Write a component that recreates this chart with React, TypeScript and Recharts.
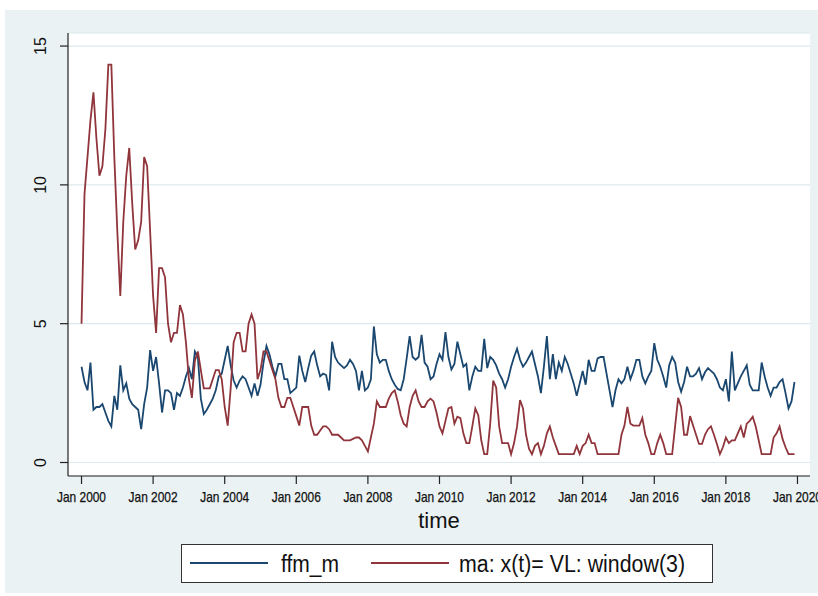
import React from 'react';
import { LineChart, Line, XAxis, YAxis, CartesianGrid } from 'recharts';

// Monthly series, Jan 2000 .. Dec 2019 (240 months)
const ffmM = [
  3.45, 2.9, 2.6, 3.6, 1.9, 2.0, 2.0, 2.1, 1.8, 1.5,
  1.3, 2.4, 1.9, 3.5, 2.6, 2.85, 2.3, 2.1, 2.0, 1.9,
  1.2, 2.1, 2.7, 4.05, 3.3, 3.8, 2.85, 1.8, 2.6, 2.6,
  2.5, 1.9, 2.5, 2.4, 2.7, 3.1, 3.4, 3.0, 4.0, 3.8,
  2.3, 1.75, 1.9, 2.1, 2.3, 2.6, 3.1, 3.2, 3.7, 4.2,
  3.5, 2.95, 2.7, 2.95, 3.1, 3.0, 2.7, 2.4, 2.85, 2.4,
  2.8, 3.6, 4.2, 3.9, 3.45, 3.1, 3.55, 3.55, 3.0, 3.0,
  2.5, 2.6, 2.7, 3.85, 3.3, 2.9, 3.4, 3.85, 4.0, 3.5,
  3.1, 3.2, 3.15, 2.6, 4.35, 3.8, 3.6, 3.5, 3.4, 3.5,
  3.7, 3.55, 3.3, 2.6, 3.3, 2.6, 2.7, 3.0, 4.9, 3.9,
  3.6, 3.7, 3.7, 3.3, 3.0, 2.8, 2.65, 2.6, 3.0, 3.75,
  4.55, 3.8, 3.7, 3.8, 4.6, 3.6, 3.45, 3.0, 3.1, 3.55,
  3.9, 3.7, 4.7, 3.8, 3.35, 3.55, 4.35, 3.9, 3.45, 3.55,
  2.6, 3.1, 3.45, 3.3, 3.3, 4.45, 3.4, 3.8, 3.7, 3.5,
  3.2, 3.0, 2.7, 3.0, 3.45, 3.8, 4.1, 3.7, 3.45, 3.6,
  3.8, 4.0, 3.55, 3.1, 2.5, 3.45, 4.55, 3.0, 3.9, 3.0,
  3.6, 3.3, 3.8, 3.55, 3.2, 2.85, 2.4, 2.85, 3.3, 2.8,
  3.7, 3.3, 3.3, 3.75, 3.8, 3.8, 3.2, 2.6, 2.0, 2.6,
  3.0, 2.85, 3.0, 3.45, 3.0, 3.3, 3.7, 3.7, 3.1, 2.85,
  3.1, 3.3, 4.3, 3.7, 3.45, 3.1, 2.7, 3.5, 3.8, 3.6,
  2.9, 2.55, 2.9, 3.45, 3.1, 3.1, 3.2, 3.4, 3.0, 3.25,
  3.4, 3.3, 3.2, 3.0, 2.7, 2.6, 3.0, 2.2, 4.0, 2.6,
  2.85, 3.1, 3.3, 3.5, 2.8, 2.6, 2.6, 2.6, 3.6, 3.1,
  2.7, 2.4, 2.7, 2.7, 2.9, 3.0, 2.5, 1.95, 2.2, 2.9,
];

const maWindow3 = [
  5.0, 9.67, 11.0, 12.33, 13.33, 11.67, 10.33, 10.67, 12.0, 14.33,
  14.33, 11.0, 8.33, 6.0, 8.67, 10.33, 11.33, 9.33, 7.67, 8.0,
  8.67, 11.0, 10.67, 8.33, 6.0, 4.67, 7.0, 7.0, 6.67, 5.0,
  4.33, 4.67, 4.67, 5.67, 5.33, 4.33, 3.0, 2.33, 3.67, 4.0,
  3.33, 2.67, 2.67, 2.67, 3.0, 3.33, 3.33, 3.0, 2.0, 1.33,
  2.67, 4.33, 4.67, 4.67, 4.0, 4.0, 5.0, 5.33, 5.0, 3.0,
  3.33, 4.0, 4.0, 3.67, 3.33, 3.0, 2.33, 2.0, 2.0, 2.33,
  2.33, 2.0, 1.67, 1.33, 2.0, 2.0, 2.0, 1.33, 1.0, 1.0,
  1.15, 1.3, 1.3, 1.2, 1.0, 1.0, 1.0, 0.9, 0.8, 0.8,
  0.8, 0.85, 0.9, 0.9, 0.8, 0.6, 0.4, 0.9, 1.4, 2.2,
  2.0, 2.0, 2.0, 2.3, 2.5, 2.6, 2.2, 1.7, 1.4, 1.3,
  2.0, 2.4, 2.6, 2.2, 2.0, 2.0, 2.2, 2.3, 2.2, 1.8,
  1.3, 1.05, 1.5, 1.95, 2.0, 1.4, 1.65, 1.6, 1.05, 0.7,
  0.7, 1.3, 1.95, 1.7, 0.8, 0.3, 0.3, 1.4, 2.95, 2.7,
  1.3, 0.7, 0.7, 0.7, 0.3, 0.7, 1.3, 2.25, 1.95, 1.0,
  0.5, 0.3, 0.6, 0.7, 0.3, 0.6, 1.05, 1.3, 0.9, 0.6,
  0.3, 0.3, 0.3, 0.3, 0.3, 0.3, 0.6, 0.3, 0.6, 0.7,
  1.0, 0.7, 0.7, 0.3, 0.3, 0.3, 0.3, 0.3, 0.3, 0.3,
  0.3, 1.0, 1.33, 2.0, 1.4, 1.33, 1.33, 1.33, 1.6, 1.0,
  0.7, 0.3, 0.3, 0.7, 1.0, 0.7, 0.3, 0.3, 0.3, 1.33,
  2.33, 2.0, 1.0, 1.0, 1.67, 1.33, 1.0, 0.67, 0.67, 1.0,
  1.2, 1.3, 1.0, 0.67, 0.3, 0.55, 0.9, 0.7, 0.8, 0.8,
  1.05, 1.3, 0.9, 1.4, 1.5, 1.65, 1.3, 0.8, 0.3, 0.3,
  0.3, 0.3, 0.9, 1.05, 1.3, 0.85, 0.55, 0.3, 0.3, 0.3,
];

const xTickLabels = [
  'Jan 2000', 'Jan 2002', 'Jan 2004', 'Jan 2006', 'Jan 2008', 'Jan 2010',
  'Jan 2012', 'Jan 2014', 'Jan 2016', 'Jan 2018', 'Jan 2020',
];
const yTicks = [0, 5, 10, 15];

const seriesNames = ['ffm_m', 'ma: x(t)= VL: window(3)'];

const data = ffmM.map((v, i) => ({ t: i, ffm: v, ma: maWindow3[i] }));
const xTicks = xTickLabels.map((_, i) => i * 24);

const BG = '#EAF2F3';
const GRID = '#DCEAEE';
const BLUE = '#1A476F';
const RED = '#90353B';
const AXIS = '#222';
const INK = '#111';
const FONT = "'Liberation Sans', Arial, sans-serif";

const XTick = (props: any) => {
  const { x, y, payload } = props;
  const label = xTickLabels[Math.round(payload.value / 24)];
  return (
    <text
      x={x}
      y={y + 16}
      textAnchor="middle"
      fontFamily={FONT}
      fontSize={14.5}
      textLength={49}
      lengthAdjust="spacingAndGlyphs"
      stroke={INK}
      strokeWidth={0.25}
      fill={INK}
    >
      {label}
    </text>
  );
};

const YTick = (props: any) => {
  const { x, y, payload } = props;
  const bx = x - 12;
  return (
    <text
      x={bx}
      y={y}
      transform={`rotate(-90 ${bx} ${y})`}
      textAnchor="middle"
      fontFamily={FONT}
      fontSize={16}
      fill={INK}
    >
      {payload.value}
    </text>
  );
};

const TimeLabel = (props: any) => {
  const vb = props.viewBox || { x: 63, y: 466, width: 742, height: 60 };
  return (
    <text x={vb.x + vb.width / 2} y={vb.y + 52} textAnchor="middle" fontFamily={FONT} fontSize={22} fill={INK}>
      time
    </text>
  );
};

const LegendBox = () => (
  <div
    style={{
      position: 'absolute',
      left: 176,
      top: 534,
      width: 530,
      height: 37,
      background: '#fff',
      border: '1px solid #333',
    }}
  >
    <svg width={530} height={37} style={{ position: 'absolute', left: 0, top: 0 }}>
      <line x1={8} x2={86} y1={18} y2={18} stroke={BLUE} strokeWidth={2} />
      <text x={99} y={27} fontFamily={FONT} fontSize={23} textLength={58} lengthAdjust="spacingAndGlyphs" fill={INK}>
        {seriesNames[0]}
      </text>
      <line x1={189} x2={267} y1={18} y2={18} stroke={RED} strokeWidth={2} />
      <text x={277} y={27} fontFamily={FONT} fontSize={23} textLength={226} lengthAdjust="spacingAndGlyphs" fill={INK}>
        {seriesNames[1]}
      </text>
    </svg>
  </div>
);

export default function App() {
  return (
    <div style={{ position: 'absolute', left: 5, top: 10, width: 813, height: 583, background: BG }}>
      <LineChart
        width={813}
        height={583}
        data={data}
        margin={{ top: 23, right: 8, left: 0, bottom: 57 }}
      >
        <CartesianGrid vertical={false} stroke={GRID} strokeWidth={1.2} fill="#fff" fillOpacity={1} />
        <XAxis
          dataKey="t"
          type="number"
          domain={[-4.53, 244.2]}
          allowDataOverflow
          ticks={xTicks}
          interval={0}
          tick={<XTick />}
          tickSize={8}
          tickMargin={2}
          height={60}
          axisLine={{ stroke: AXIS, strokeWidth: 1.2 }}
          tickLine={{ stroke: AXIS, strokeWidth: 1.2 }}
          label={<TimeLabel />}
        />
        <YAxis
          type="number"
          domain={[-0.486, 15.47]}
          allowDataOverflow
          ticks={yTicks}
          interval={0}
          width={63}
          tick={<YTick />}
          tickSize={8}
          tickMargin={2}
          axisLine={{ stroke: AXIS, strokeWidth: 1.2 }}
          tickLine={{ stroke: AXIS, strokeWidth: 1.2 }}
        />
        <Line
          type="linear"
          dataKey="ffm"
          name={seriesNames[0]}
          stroke={BLUE}
          strokeWidth={1.8}
          dot={false}
          isAnimationActive={false}
        />
        <Line
          type="linear"
          dataKey="ma"
          name={seriesNames[1]}
          stroke={RED}
          strokeWidth={1.8}
          dot={false}
          isAnimationActive={false}
        />
      </LineChart>
      <LegendBox />
    </div>
  );
}
